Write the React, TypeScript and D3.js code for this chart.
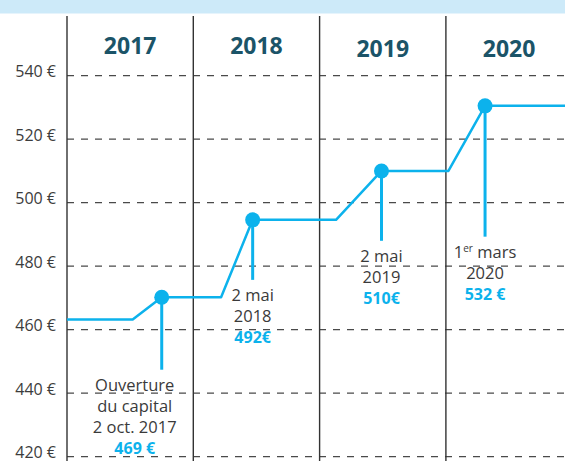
import React from "react";
import * as d3 from "d3";

const W = 565;
const H = 461;

const years = ["2017", "2018", "2019", "2020"];
const yearStarts = [2017, 2018, 2019, 2020];
const yearLabelDy = [0, 0, 3, 3];
const yTicks = [420, 440, 460, 480, 500, 520, 540];

// step line (time in fractional years, value in €)
const stepT = [2017.0, 2017.52, 2017.75, 2018.22, 2018.47, 2019.13, 2019.49, 2020.02, 2020.31, 2020.95];
const stepV = [463.2, 463.2, 470.2, 470.2, 494.6, 494.6, 510, 510, 530.5, 530.5];

// events
const eventT = [2017.75, 2018.47, 2019.49, 2020.31];
const eventV = [470.2, 494.6, 510, 530.5];
const eventStemEnd = [447.4, 475.7, 488, 489.3];
const eventPrice = ["469 €", "492€", "510€", "532 €"];
const eventLabels = [
  ["Ouverture", "du capital", "2 oct. 2017"],
  ["2 mai", "2018"],
  ["2 mai", "2019"],
  ["1|er| mars", "2020"],
];

const BLUE = "#0cb2ec";
const FONT = "'Open Sans', 'Noto Sans', sans-serif";

export default function App() {
  const x = d3.scaleLinear().domain([2017, 2021]).range([67, 572.2]);
  const y = d3.scaleLinear().domain([420, 540]).range([456.7, 75.7]);
  const line = d3
    .line<number>()
    .x((_, i) => x(stepT[i]))
    .y((v) => y(v));

  return (
    <svg
      width={W}
      height={H}
      style={{ position: "absolute", left: 0, top: 0, background: "#fff" }}
      fontFamily={FONT}
    >
      <rect x={0} y={0} width={W} height={13.5} fill="#cdeaf9" />
      {/* gridlines */}
      {yTicks.map((t) => (
        <g key={t}>
          <line
            x1={x(2017)}
            x2={W}
            y1={y(t)}
            y2={y(t)}
            stroke="#4a4a4a"
            strokeWidth={1.3}
            strokeDasharray="7,7"
          />
          <text
            x={56}
            y={y(t) + 1.5}
            textAnchor="end"
            fontSize={16}
            fill="#3c3c3c"
            fontWeight={400}
          >
            {t} €
          </text>
        </g>
      ))}
      {/* year separators */}
      {yearStarts.map((s) => (
        <line key={s} x1={x(s)} x2={x(s)} y1={16} y2={H} stroke="#333" strokeWidth={1.4} />
      ))}
      {years.map((yr, i) => (
        <text
          key={yr}
          x={x(yearStarts[i] + 0.5)}
          y={54 + yearLabelDy[i]}
          textAnchor="middle"
          fontSize={23}
          fontWeight={700}
          fill="#1b5468"
        >
          {yr}
        </text>
      ))}
      {/* step line */}
      <path d={line(stepV) || ""} fill="none" stroke={BLUE} strokeWidth={2.5} strokeLinejoin="round" />
      {/* events */}
      {eventT.map((t, i) => {
        const cx = x(t);
        const stemEnd = y(eventStemEnd[i]);
        const labels = eventLabels[i];
        return (
          <g key={i}>
            <line x1={cx} x2={cx} y1={y(eventV[i])} y2={stemEnd} stroke={BLUE} strokeWidth={3} />
            <circle cx={cx} cy={y(eventV[i])} r={7.5} fill={BLUE} />
            {labels.map((lab, j) => {
              const parts = lab.split("|");
              return (
                <text
                  key={j}
                  x={cx + (i === 0 ? -27 : 0)}
                  y={stemEnd + 21 + j * 21}
                  textAnchor="middle"
                  fontSize={16.5}
                  fill="#3a3a3a"
                  fontWeight={400}
                >
                  {parts.length > 1 ? (
                    <>
                      {parts[0]}
                      <tspan fontSize={10} dy={-6}>
                        {parts[1]}
                      </tspan>
                      <tspan dy={6}>{parts[2]}</tspan>
                    </>
                  ) : (
                    lab
                  )}
                </text>
              );
            })}
            <text
              x={cx + (i === 0 ? -27 : 0)}
              y={stemEnd + 21 + labels.length * 21}
              textAnchor="middle"
              fontSize={16}
              fontWeight={700}
              fill={BLUE}
            >
              {eventPrice[i]}
            </text>
          </g>
        );
      })}
    </svg>
  );
}
